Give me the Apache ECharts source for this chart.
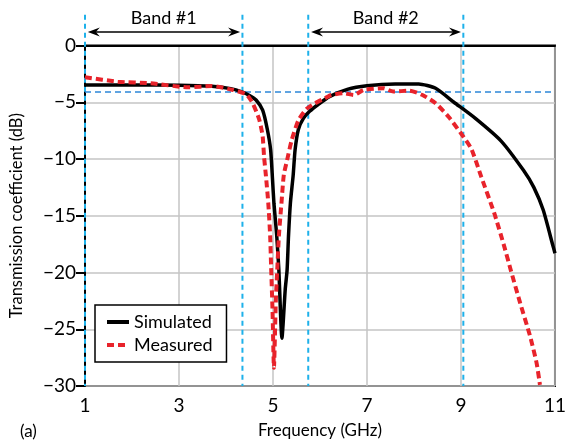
<!DOCTYPE html>
<html>
<head>
<meta charset="utf-8">
<script src="https://cdn.jsdelivr.net/npm/echarts@6/dist/echarts.min.js"></script>
<style>
  html, body { margin: 0; padding: 0; background: #fff; }
  #main { width: 569px; height: 444px; }
</style>
</head>
<body>
<div id="main"></div>
<script>
// simulated curve (GHz, dB)
const simX = [1, 2, 3, 3.7, 4.1, 4.35, 4.5, 4.64, 4.78, 4.88, 4.95, 4.99, 5.02, 5.08, 5.125, 5.19,
  5.26, 5.30, 5.33, 5.37, 5.43, 5.47, 5.54, 5.65, 5.78, 5.96, 6.2, 6.58, 7.0, 7.6, 8.1, 8.46,
  8.85, 9.3, 9.85, 10.33, 10.55, 10.75, 10.96, 11]
const simY = [-3.48, -3.47, -3.5, -3.6, -3.8, -4.1, -4.4, -4.8, -5.7, -7.4, -9.2, -11.8, -13.9, -16.8, -19.8, -25.8,
  -21.5, -19.8, -16.8, -13.9, -11.4, -9.2, -7.4, -6.4, -5.8, -5.2, -4.5, -3.86, -3.54, -3.39, -3.39, -3.77,
  -5.0, -6.4, -8.4, -11.0, -12.5, -14.5, -17.7, -18.3]

// measured curve
const measX = [1, 1.7, 2.4, 3.2, 3.7, 4.15, 4.43, 4.57, 4.71, 4.78, 4.81, 4.85, 4.9, 4.94, 4.96, 4.99, 5.02,
  5.06, 5.09, 5.125, 5.18, 5.23, 5.30, 5.40, 5.54, 5.71, 5.89, 6.1, 6.24, 6.5, 6.72, 6.93, 7.35, 7.56,
  7.9, 8.18, 8.46, 8.74, 9.01, 9.22, 9.43, 9.71, 9.92, 10.06, 10.26, 10.47, 10.61, 10.68]
const measY = [-2.8, -3.19, -3.33, -3.68, -3.57, -3.92, -4.3, -5.1, -6.56, -8.0, -9.8, -11.5, -13.9, -16.8, -19.5, -23.3, -28.4,
  -22.5, -19.8, -16.8, -13.9, -11.4, -10.1, -8.3, -6.6, -5.6, -5.1, -4.65, -4.36, -4.2, -4.36, -3.92, -3.77, -4.06,
  -3.98, -4.36, -5.09, -6.3, -7.8, -9.1, -11.55, -14.8, -17.7, -19.8, -22.7, -25.6, -28.0, -29.9]

// band edges, -4 dB reference and labels
const bandEdges = [1, 4.35, 5.75, 9.05]
const bandNames = ['Band #1', 'Band #2']
const refLevel = -4.1
const edgeTop = 2.7
const arrowLevel = 1.2
const labelLevel = 2.42

const xTicks = [1, 11, 2]     // min, max, step
const yTicks = [-30, 0, 5]

const font = 'Lato'
const chart = echarts.init(document.getElementById('main'))

const pair = (xs, ys) => xs.map((x, i) => [x, ys[i]])

chart.setOption({
  animation: false,
  grid: { left: 82, right: 7, top: 45.5, bottom: 58, show: true, borderColor: '#000', borderWidth: 2 },
  legend: {
    data: ['Simulated', 'Measured'],
    orient: 'vertical',
    left: 95, top: 305,
    backgroundColor: '#fff',
    borderColor: '#000', borderWidth: 1.5, borderRadius: 0,
    padding: [8, 14, 8, 10],
    itemGap: 5, itemWidth: 22, itemHeight: 14,
    itemStyle: { opacity: 0 },
    lineStyle: { width: 4 },
    textStyle: { fontFamily: font, fontSize: 18, color: '#000' }
  },
  xAxis: {
    type: 'value', min: xTicks[0], max: xTicks[1], interval: xTicks[2],
    name: 'Frequency (GHz)', nameLocation: 'middle', nameGap: 36,
    nameTextStyle: { fontFamily: font, fontSize: 17, color: '#000' },
    axisLine: { lineStyle: { color: '#000', width: 2 } },
    axisTick: { show: false },
    axisLabel: { fontFamily: font, fontSize: 19, color: '#000', margin: 10 },
    splitLine: { lineStyle: { color: '#c4c4c4', width: 1.5 } }
  },
  yAxis: {
    type: 'value', min: yTicks[0], max: yTicks[1], interval: yTicks[2],
    name: 'Transmission coefficient (dB)', nameLocation: 'middle', nameGap: 60,
    nameTextStyle: { fontFamily: font, fontSize: 16.5, color: '#000' },
    axisLine: { show: true, lineStyle: { color: '#000', width: 2 } },
    axisTick: { show: true, length: 9, lineStyle: { color: '#000', width: 2 } },
    axisLabel: {
      fontFamily: font, fontSize: 19, color: '#000', margin: 9,
      formatter: v => String(v).replace('-', '\u2212')
    },
    splitLine: { lineStyle: { color: '#c4c4c4', width: 1.5 } }
  },
  series: [
    {
      name: 'Simulated', type: 'line', data: pair(simX, simY),
      symbol: 'none', smooth: 0.2, z: 3,
      lineStyle: { color: '#000', width: 3.5 }, itemStyle: { color: '#000' }
    },
    {
      name: 'Measured', type: 'line', data: pair(measX, measY),
      symbol: 'none', smooth: 0.2, z: 4,
      lineStyle: { color: '#e8232b', width: 4, type: [7, 4] }, itemStyle: { color: '#e8232b' }
    }
  ]
})

// annotations placed through the axis scales
const px = (x, y) => chart.convertToPixel({ gridIndex: 0 }, [x, y])
const graphics = []

bandEdges.forEach(e => {
  const a = px(e, edgeTop), b = px(e, yTicks[0])
  graphics.push({
    type: 'line', z: 1, silent: true,
    shape: { x1: a[0], y1: a[1], x2: b[0], y2: b[1] },
    style: { stroke: '#1eb1ea', lineWidth: 2, lineDash: [5, 4] }
  })
})

const h1 = px(xTicks[0], refLevel), h2 = px(xTicks[1], refLevel)
graphics.push({
  type: 'line', z: 1, silent: true,
  shape: { x1: h1[0], y1: h1[1], x2: h2[0], y2: h2[1] },
  style: { stroke: '#2d86d8', lineWidth: 1.5, lineDash: [6, 4] }
})

bandNames.forEach((name, i) => {
  const a = px(bandEdges[2 * i] + 0.06, arrowLevel)
  const b = px(bandEdges[2 * i + 1] - 0.05, arrowLevel)
  const y = a[1]
  graphics.push({
    type: 'line', silent: true,
    shape: { x1: a[0] + 4, y1: y, x2: b[0] - 4, y2: y },
    style: { stroke: '#000', lineWidth: 1.5 }
  })
  graphics.push({
    type: 'polygon', silent: true,
    shape: { points: [[a[0], y], [a[0] + 12, y - 4.5], [a[0] + 8, y], [a[0] + 12, y + 4.5]] },
    style: { fill: '#000' }
  })
  graphics.push({
    type: 'polygon', silent: true,
    shape: { points: [[b[0], y], [b[0] - 12, y - 4.5], [b[0] - 8, y], [b[0] - 12, y + 4.5]] },
    style: { fill: '#000' }
  })
  const t = px((bandEdges[2 * i] + bandEdges[2 * i + 1]) / 2, labelLevel)
  graphics.push({
    type: 'text', silent: true, x: t[0], y: t[1],
    style: { text: name, fontFamily: font, fontSize: 18, fill: '#000', align: 'center', verticalAlign: 'middle' }
  })
})

graphics.push({
  type: 'text', silent: true, left: 20, top: 423,
  style: { text: '(a)', fontFamily: font, fontSize: 17, fill: '#000' }
})

chart.setOption({ graphic: graphics })
</script>
</body>
</html>
